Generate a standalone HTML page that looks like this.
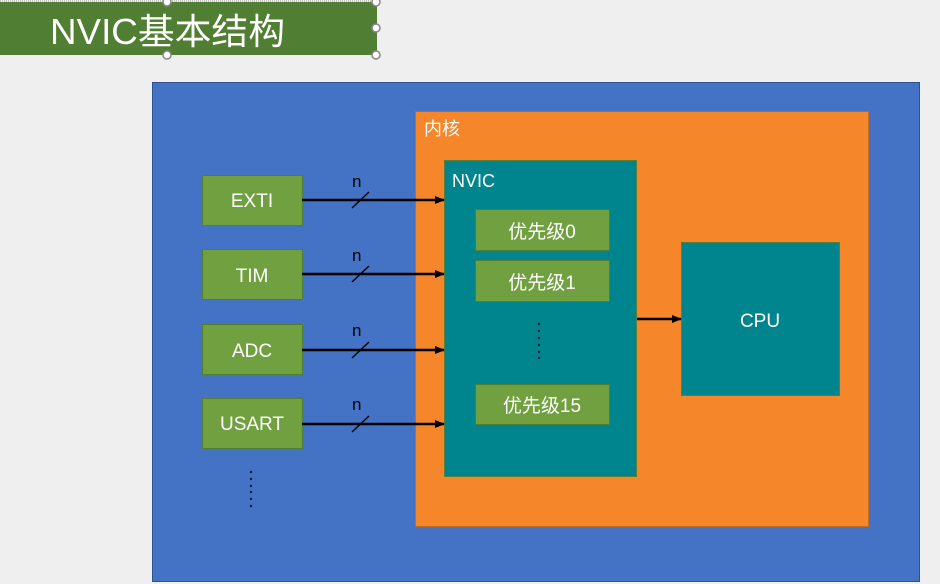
<!DOCTYPE html>
<html><head><meta charset="utf-8"><style>
html,body{margin:0;padding:0;background:#efefef;}
svg{display:block;}
text{font-family:"Liberation Sans","Noto Sans CJK SC",sans-serif;fill:#fff;}
</style></head><body>
<svg width="940" height="584" viewBox="0 0 940 584" xmlns="http://www.w3.org/2000/svg">
<defs><marker id="a" markerWidth="10" markerHeight="10" refX="9" refY="5" orient="auto" markerUnits="userSpaceOnUse"><path d="M0,1 L10,5 L0,9Z" fill="#000"/></marker></defs>
<line x1="0" y1="1" x2="377" y2="1" stroke="#999" stroke-dasharray="1,1"/>
<rect x="0" y="2" width="377" height="53" fill="#507e32"/>
<text x="50" y="44" font-size="36" fill="#f4f8ee" textLength="235" lengthAdjust="spacingAndGlyphs">NVIC基本结构</text>
<g fill="#fff" stroke="#888" stroke-width="1.5">
<circle cx="167" cy="2" r="4"/><circle cx="376" cy="2" r="4"/><circle cx="376" cy="28" r="4"/><circle cx="376" cy="55" r="4"/><circle cx="167" cy="55" r="4"/></g>
<rect x="152.5" y="82.5" width="767" height="499" fill="#4472c4" stroke="#2f528f"/>
<rect x="415.5" y="111.5" width="453" height="415" fill="#f5862a" stroke="#c46a20"/>
<text x="424" y="135" font-size="18">内核</text>
<rect x="444.5" y="160.5" width="192" height="316" fill="#00858f" stroke="#5a7f3a"/>
<text x="452" y="187" font-size="18">NVIC</text>
<g fill="#70a040" stroke="#507e32">
<rect x="202.5" y="175.5" width="100" height="50"/>
<rect x="202.5" y="249.5" width="100" height="50"/>
<rect x="202.5" y="324.5" width="100" height="50"/>
<rect x="202.5" y="398.5" width="100" height="50"/>
<rect x="475.5" y="209.5" width="134" height="41"/>
<rect x="475.5" y="260.5" width="134" height="41"/>
<rect x="475.5" y="384.5" width="134" height="40"/>
</g>
<g font-size="19" text-anchor="middle">
<text x="252" y="207">EXTI</text><text x="252" y="282">TIM</text><text x="252" y="357">ADC</text><text x="252" y="430">USART</text>
<text x="542" y="238">优先级0</text><text x="542" y="289">优先级1</text><text x="542" y="412">优先级15</text>
</g>
<rect x="681.5" y="242.5" width="158" height="153" fill="#00858f" stroke="#5a7f3a"/>
<text x="760" y="327" font-size="19" text-anchor="middle">CPU</text>
<g stroke="#000" stroke-width="2.5" marker-end="url(#a)">
<line x1="302" y1="200" x2="444" y2="200"/><line x1="302" y1="274" x2="444" y2="274"/>
<line x1="302" y1="350" x2="444" y2="350"/><line x1="302" y1="424" x2="444" y2="424"/>
<line x1="637" y1="319" x2="681" y2="319"/>
</g>
<g stroke="#000" stroke-width="1.5">
<line x1="352" y1="208" x2="369" y2="192"/><line x1="352" y1="282" x2="369" y2="266"/>
<line x1="352" y1="358" x2="369" y2="342"/><line x1="352" y1="432" x2="369" y2="416"/>
</g>
<g font-size="17">
<text x="352" y="187" style="fill:#000">n</text><text x="352" y="261" style="fill:#000">n</text>
<text x="352" y="336" style="fill:#000">n</text><text x="352" y="410" style="fill:#000">n</text>
</g>
<g fill="#0a1a30">
<circle cx="251" cy="472" r="1.2"/><circle cx="251" cy="479" r="1.2"/><circle cx="251" cy="486" r="1.2"/><circle cx="251" cy="492" r="1.2"/><circle cx="251" cy="499" r="1.2"/><circle cx="251" cy="506" r="1.2"/>
<circle cx="539" cy="324" r="1.2"/><circle cx="539" cy="331" r="1.2"/><circle cx="539" cy="338" r="1.2"/><circle cx="539" cy="345" r="1.2"/><circle cx="539" cy="352" r="1.2"/><circle cx="539" cy="358" r="1.2"/>
</g>
</svg>
</body></html>
